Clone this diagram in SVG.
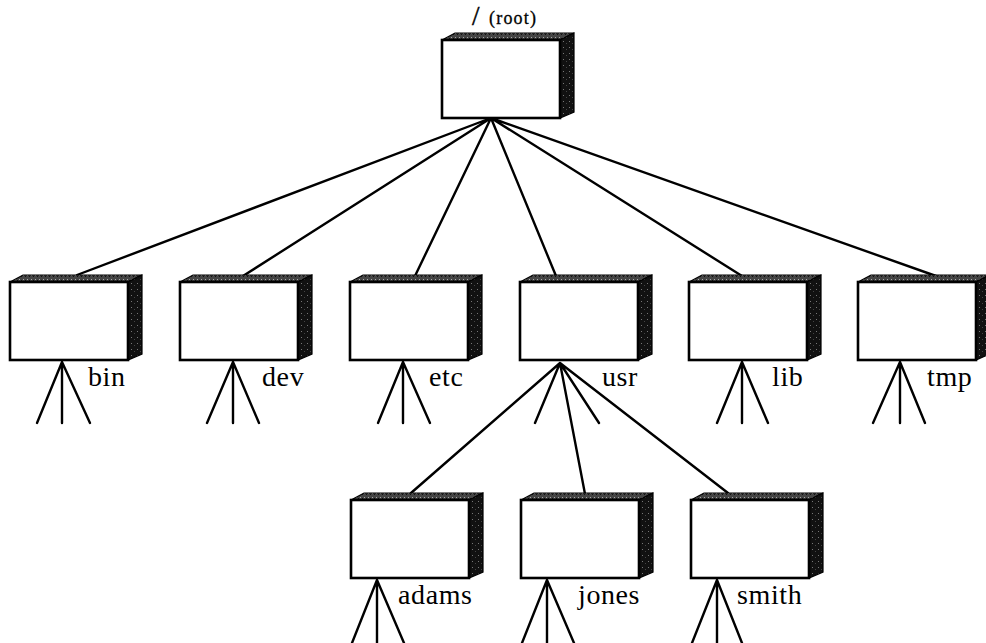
<svg xmlns="http://www.w3.org/2000/svg" xmlns:xlink="http://www.w3.org/1999/xlink" width="986" height="643" viewBox="0 0 986 643">
<style>
.ln{stroke:#000;stroke-width:2.4;fill:none;stroke-linecap:round}
.front{fill:#fff;stroke:#000;stroke-width:2.6}
.top{stroke:#000;stroke-width:1.2}
.side{stroke:#000;stroke-width:1.2}
.lbl{font-family:"Liberation Serif","Times New Roman",serif;font-size:28px;letter-spacing:0.6px;fill:#000}
</style>
<defs>
<pattern id="stip" width="6" height="6" patternUnits="userSpaceOnUse">
<rect width="6" height="6" fill="#111"/>
<rect x="1" y="1" width="1" height="1" fill="#777"/>
<rect x="4" y="3" width="1" height="1" fill="#444"/>
</pattern>
<pattern id="stip2" width="4" height="4" patternUnits="userSpaceOnUse">
<rect width="4" height="4" fill="#444"/>
<rect x="1" y="1" width="1" height="1" fill="#aaa"/>
<rect x="3" y="2" width="1" height="1" fill="#111"/>
</pattern>
<g id="box">
<polygon class="top" points="0,0 13,-7 132,-7 118,0" style="fill:url(#stip2)"/>
<polygon class="side" points="118,0 132,-7 132,72 118,78" style="fill:url(#stip)"/>
<rect class="front" x="0" y="0" width="118" height="78"/>
</g>
</defs>
<g id="connectors">
<path class="ln" d="M491,118 L77,275 M491,118 L243,276 M491,118 L415,276 M491,118 L556,276 M491,118 L742,276 M491,118 L936,276"/>
<path class="ln" d="M560,363 L411,493 M560,363 L585,494 M560,363 L728,493 M560,363 L535,423 M560,363 L599,423"/>
</g>
<g id="node-root">
<use xlink:href="#box" href="#box" x="442" y="40"/>
<text x="472" y="25" style="font-family:'Liberation Serif',serif;font-size:27px;stroke:#000;stroke-width:0.4">/</text>
<text x="489" y="24" style="font-family:'Liberation Serif',serif;font-size:18px;letter-spacing:1.2px;stroke:#000;stroke-width:0.3">(root)</text>
</g>
<g id="node-bin">
<use xlink:href="#box" href="#box" x="10" y="282"/>
<path class="ln" d="M62,362 L37,423 M62,362 L62,423 M62,362 L90,423"/>
<text class="lbl" x="88" y="386">bin</text>
</g>
<g id="node-dev">
<use xlink:href="#box" href="#box" x="180" y="282"/>
<path class="ln" d="M233,362 L207,423 M233,362 L233,423 M233,362 L259,423"/>
<text class="lbl" x="262" y="386">dev</text>
</g>
<g id="node-etc">
<use xlink:href="#box" href="#box" x="350" y="282"/>
<path class="ln" d="M403,362 L378,423 M403,362 L403,423 M403,362 L430,423"/>
<text class="lbl" x="429" y="386">etc</text>
</g>
<g id="node-usr">
<use xlink:href="#box" href="#box" x="520" y="282"/>
<text class="lbl" x="602" y="386">usr</text>
</g>
<g id="node-lib">
<use xlink:href="#box" href="#box" x="689" y="282"/>
<path class="ln" d="M742,362 L717,423 M742,362 L742,423 M742,362 L768,423"/>
<text class="lbl" x="772" y="386">lib</text>
</g>
<g id="node-tmp">
<use xlink:href="#box" href="#box" x="858" y="282"/>
<path class="ln" d="M900,362 L873,423 M900,362 L900,423 M900,362 L925,423"/>
<text class="lbl" x="927" y="386">tmp</text>
</g>
<g id="node-adams">
<use xlink:href="#box" href="#box" x="351" y="500"/>
<path class="ln" d="M377,580 L352,643 M377,580 L377,643 M377,580 L404,643"/>
<text class="lbl" x="398" y="604">adams</text>
</g>
<g id="node-jones">
<use xlink:href="#box" href="#box" x="521" y="500"/>
<path class="ln" d="M547,580 L522,643 M547,580 L547,643 M547,580 L574,643"/>
<text class="lbl" x="578" y="604">jones</text>
</g>
<g id="node-smith">
<use xlink:href="#box" href="#box" x="691" y="500"/>
<path class="ln" d="M717,580 L692,643 M717,580 L717,643 M717,580 L742,643"/>
<text class="lbl" x="737" y="604">smith</text>
</g>
</svg>
